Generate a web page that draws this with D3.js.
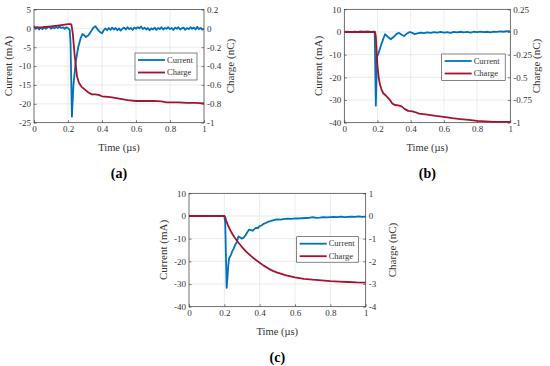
<!DOCTYPE html>
<html lang="en">
<head>
<meta charset="UTF-8">
<title>Current and charge</title>
<script src="https://cdn.jsdelivr.net/npm/d3@7/dist/d3.min.js"></script>
<style>
  body { margin: 0; background: #fff; }
  svg { display: block; }
  svg text { font-family: "Liberation Serif", "Times New Roman", serif; }
</style>
</head>
<body>
<script>
// shared time axis (µs)
const timeTicks = [0, 0.2, 0.4, 0.6, 0.8, 1];

// (a)  [time µs, current mA] and [time µs, charge nC]
const currentA = [[0,0.6],[0.01,-0.1],[0.02,0.3],[0.03,-0.3],[0.04,0.2],[0.05,-0.2],[0.06,0.3],[0.07,-0.1],[0.08,0.2],[0.09,0.5],[0.1,-0.1],[0.11,0.3],[0.12,0],[0.13,0.4],[0.14,0.1],[0.15,0.5],[0.16,0.1],[0.17,0.3],[0.18,-0.1],[0.19,0.3],[0.2,0.1],[0.21,-0.4],[0.215,-4],[0.223,-23.4],[0.232,-15],[0.245,-9],[0.26,-5],[0.275,-2.5],[0.285,-1.5],[0.295,-1.8],[0.305,-2.3],[0.32,-1.8],[0.335,-0.8],[0.35,0.2],[0.36,0.6],[0.37,0],[0.38,-0.6],[0.39,-1],[0.4,-1.3],[0.41,-0.5],[0.42,0],[0.43,-0.5],[0.44,0.1],[0.45,-0.4],[0.46,0.2],[0.47,-0.3],[0.48,0.1],[0.49,-0.5],[0.5,0],[0.51,-0.6],[0.52,-0.1],[0.53,0.2],[0.54,-0.3],[0.55,0.3],[0.56,-0.2],[0.57,0.1],[0.58,-0.4],[0.59,0.2],[0.6,-0.1],[0.61,0.3],[0.62,0],[0.63,0.5],[0.64,-0.2],[0.65,0.2],[0.66,-0.3],[0.67,0.1],[0.68,-0.5],[0.69,0],[0.7,-0.3],[0.71,0.2],[0.72,-0.4],[0.73,0.1],[0.74,-0.2],[0.75,0.3],[0.76,-0.3],[0.77,0.1],[0.78,-0.1],[0.79,0.3],[0.8,-0.2],[0.81,0.1],[0.82,-0.4],[0.83,0.2],[0.84,-0.1],[0.85,0.3],[0.86,-0.3],[0.87,0],[0.88,0.2],[0.89,-0.4],[0.9,0.1],[0.91,-0.2],[0.92,0.3],[0.93,-0.1],[0.94,0.2],[0.95,-0.3],[0.96,0.4],[0.97,-0.2],[0.98,0.1],[0.99,-0.3],[1,-0.2]];
const chargeA = [[0,0.01],[0.05,0.012],[0.1,0.02],[0.15,0.032],[0.2,0.045],[0.215,0.045],[0.22,0.04],[0.228,-0.05],[0.239,-0.28],[0.253,-0.51],[0.265,-0.58],[0.28,-0.62],[0.3,-0.65],[0.32,-0.68],[0.34,-0.7],[0.36,-0.7],[0.38,-0.705],[0.4,-0.72],[0.45,-0.73],[0.5,-0.745],[0.55,-0.76],[0.6,-0.77],[0.65,-0.77],[0.7,-0.768],[0.75,-0.775],[0.78,-0.785],[0.85,-0.785],[0.9,-0.79],[0.95,-0.79],[1,-0.795]];
const currentTicksA = [5, 0, -5, -10, -15, -20, -25];
const chargeTicksA = [0.2, 0, -0.2, -0.4, -0.6, -0.8, -1];

// (b)
const currentB = [[0,0],[0.02,0.1],[0.04,-0.1],[0.06,0.2],[0.08,0],[0.1,0.3],[0.12,0.1],[0.14,0.3],[0.16,0],[0.18,0.2],[0.183,0],[0.19,-32.5],[0.197,-11],[0.203,-10],[0.212,-8],[0.225,-5],[0.245,-1],[0.26,-2],[0.28,-3.2],[0.3,-2],[0.315,-0.8],[0.33,-0.4],[0.345,-1.2],[0.36,-1.8],[0.375,-0.8],[0.395,0],[0.41,-0.4],[0.425,-1],[0.44,-0.6],[0.46,-0.3],[0.48,-0.5],[0.5,-0.2],[0.52,-0.4],[0.54,-0.1],[0.56,-0.3],[0.58,0],[0.6,-0.3],[0.62,-0.1],[0.64,-0.4],[0.66,0],[0.68,-0.2],[0.7,0.1],[0.72,-0.2],[0.74,0],[0.76,-0.3],[0.78,0.1],[0.8,-0.1],[0.82,0.2],[0.84,-0.1],[0.86,0.1],[0.88,-0.2],[0.9,0.2],[0.92,0],[0.94,0.3],[0.96,0.1],[0.98,0.4],[1,0.3]];
const chargeB = [[0,0],[0.185,0],[0.19,-0.05],[0.196,-0.25],[0.2,-0.38],[0.207,-0.5],[0.215,-0.58],[0.225,-0.64],[0.235,-0.675],[0.25,-0.7],[0.265,-0.73],[0.275,-0.75],[0.29,-0.79],[0.305,-0.805],[0.325,-0.81],[0.345,-0.82],[0.365,-0.85],[0.385,-0.87],[0.41,-0.875],[0.43,-0.885],[0.45,-0.9],[0.5,-0.91],[0.55,-0.925],[0.6,-0.935],[0.65,-0.95],[0.7,-0.96],[0.75,-0.97],[0.8,-0.98],[0.85,-0.985],[0.9,-0.99],[0.95,-0.99],[1,-0.99]];
const currentTicksB = [10, 0, -10, -20, -30, -40];
const chargeTicksB = [0.25, 0, -0.25, -0.5, -0.75, -1];

// (c)
const currentC = [[0,0],[0.1,0],[0.2,0],[0.205,-3],[0.213,-31.7],[0.218,-27],[0.222,-22],[0.227,-18.5],[0.232,-18],[0.238,-17],[0.245,-15.5],[0.252,-14.5],[0.26,-13],[0.27,-11.5],[0.28,-9],[0.29,-9.5],[0.3,-10],[0.31,-9.5],[0.32,-8.5],[0.33,-7.2],[0.34,-6],[0.35,-6.2],[0.36,-6.5],[0.37,-5.8],[0.38,-5.2],[0.39,-5.3],[0.4,-4.5],[0.41,-4.2],[0.42,-3.6],[0.43,-3.2],[0.44,-2.9],[0.45,-2.5],[0.46,-2.3],[0.47,-2],[0.48,-1.8],[0.49,-1.6],[0.5,-1.5],[0.52,-1.6],[0.54,-1.3],[0.56,-1.2],[0.58,-1.3],[0.6,-1.1],[0.62,-1.1],[0.64,-1],[0.66,-0.9],[0.68,-0.8],[0.7,-0.5],[0.72,-0.8],[0.74,-0.7],[0.76,-0.5],[0.78,-0.6],[0.8,-0.5],[0.82,-0.4],[0.84,-0.5],[0.86,-0.3],[0.88,-0.5],[0.9,-0.4],[0.92,-0.3],[0.94,-0.4],[0.96,-0.2],[0.98,-0.4],[1,-0.3]];
const chargeC = [[0,0],[0.2,0],[0.205,-0.05],[0.21,-0.2],[0.22,-0.4],[0.23,-0.57],[0.24,-0.72],[0.25,-0.85],[0.26,-0.97],[0.28,-1.18],[0.3,-1.37],[0.325,-1.58],[0.35,-1.76],[0.375,-1.92],[0.4,-2.06],[0.425,-2.2],[0.45,-2.32],[0.475,-2.42],[0.5,-2.5],[0.55,-2.62],[0.6,-2.71],[0.65,-2.77],[0.7,-2.81],[0.75,-2.84],[0.8,-2.87],[0.85,-2.89],[0.9,-2.91],[0.95,-2.93],[1,-2.94]];
const currentTicksC = [10, 0, -10, -20, -30, -40];
const chargeTicksC = [1, 0, -1, -2, -3, -4];

const seriesNames = ['Current', 'Charge'];
const colors = { Current: '#0072BD', Charge: '#A2142F' };
const axisColor = '#333';

const svg = d3.select('body').append('svg')
    .attr('width', 550)
    .attr('height', 366);

// panel frames (pixels) and legend boxes
const panels = [
  { tag: '(a)', current: currentA, charge: chargeA, cTicks: currentTicksA, qTicks: chargeTicksA,
    x0: 34, x1: 204, y0: 9.5, y1: 122.7, legend: [135, 53, 62, 27] },
  { tag: '(b)', current: currentB, charge: chargeB, cTicks: currentTicksB, qTicks: chargeTicksB,
    x0: 344.3, x1: 510.3, y0: 9.3, y1: 122.7, legend: [441.7, 54, 63.5, 26.5] },
  { tag: '(c)', current: currentC, charge: chargeC, cTicks: currentTicksC, qTicks: chargeTicksC,
    x0: 189, x1: 365.7, y0: 193.3, y1: 306.7, legend: [296.7, 236.7, 61.6, 25.5] }
];

panels.forEach(p => {
  const x = d3.scaleLinear().domain([0, 1]).range([p.x0, p.x1]);
  const yc = d3.scaleLinear().domain(d3.extent(p.cTicks)).range([p.y1, p.y0]);
  const yq = d3.scaleLinear().domain(d3.extent(p.qTicks)).range([p.y1, p.y0]);
  const g = svg.append('g');

  // grid
  g.append('g').attr('stroke', '#e3e3e3').attr('stroke-width', 0.7)
    .selectAll('line').data(timeTicks.slice(1, -1)).join('line')
    .attr('x1', d => x(d)).attr('x2', d => x(d)).attr('y1', p.y0).attr('y2', p.y1);
  g.append('g').attr('stroke', '#e3e3e3').attr('stroke-width', 0.7)
    .selectAll('line').data(p.cTicks.slice(1, -1)).join('line')
    .attr('y1', d => yc(d)).attr('y2', d => yc(d)).attr('x1', p.x0).attr('x2', p.x1);

  // axes, ticks pointing inward like matlab
  const fmt = d => String(d);
  const axes = [
    [d3.axisBottom(x).tickValues(timeTicks), `translate(0,${p.y1})`],
    [d3.axisLeft(yc).tickValues(p.cTicks), `translate(${p.x0},0)`],
    [d3.axisRight(yq).tickValues(p.qTicks), `translate(${p.x1},0)`]
  ];
  axes.forEach(([ax, tr]) => {
    const a = g.append('g').attr('transform', tr)
      .call(ax.tickFormat(fmt).tickSizeInner(-2.5).tickSizeOuter(0).tickPadding(3));
    a.attr('font-family', null);
    a.select('.domain').remove();
    a.selectAll('line').attr('stroke', axisColor).attr('stroke-width', 0.6);
    a.selectAll('text').attr('fill', axisColor).style('font-size', '9px');
  });

  // box
  g.append('rect')
    .attr('x', p.x0).attr('y', p.y0)
    .attr('width', p.x1 - p.x0).attr('height', p.y1 - p.y0)
    .attr('fill', 'none').attr('stroke', axisColor).attr('stroke-width', 0.7);

  // curves
  const lineC = d3.line().x(d => x(d[0])).y(d => yc(d[1]));
  const lineQ = d3.line().x(d => x(d[0])).y(d => yq(d[1]));
  g.append('path').datum(p.current).attr('d', lineC)
    .attr('fill', 'none').attr('stroke', colors.Current).attr('stroke-width', 1.8).attr('stroke-linejoin', 'round');
  g.append('path').datum(p.charge).attr('d', lineQ)
    .attr('fill', 'none').attr('stroke', colors.Charge).attr('stroke-width', 1.8).attr('stroke-linejoin', 'round');

  // axis titles
  const midY = (p.y0 + p.y1) / 2;
  g.append('text').attr('x', (p.x0 + p.x1) / 2).attr('y', p.y1 + 28)
    .attr('text-anchor', 'middle').style('font-size', '10.5px').attr('fill', axisColor).text('Time (µs)');
  g.append('text').attr('transform', `translate(${p.x0 - 22},${midY}) rotate(-90)`)
    .attr('text-anchor', 'middle').style('font-size', '11px').attr('fill', axisColor).text('Current (mA)');
  g.append('text').attr('transform', `translate(${p.x1 + 30},${midY}) rotate(-90)`)
    .attr('text-anchor', 'middle').style('font-size', '11px').attr('fill', axisColor).text('Charge (nC)');

  // legend
  const [lx, ly, lw, lh] = p.legend;
  const leg = g.append('g').attr('transform', `translate(${lx},${ly})`);
  leg.append('rect').attr('width', lw).attr('height', lh)
    .attr('fill', '#fff').attr('stroke', axisColor).attr('stroke-width', 0.6);
  seriesNames.forEach((name, i) => {
    const yy = 7 + i * 12.5;
    leg.append('line').attr('x1', 3).attr('x2', 30).attr('y1', yy).attr('y2', yy)
      .attr('stroke', colors[name]).attr('stroke-width', 1.8);
    leg.append('text').attr('x', 32).attr('y', yy).attr('dy', '0.32em')
      .style('font-size', '8.5px').attr('fill', axisColor).text(name);
  });

  // caption
  g.append('text').attr('x', (p.x0 + p.x1) / 2).attr('y', p.y1 + 55)
    .attr('text-anchor', 'middle').style('font-size', '14px').attr('font-weight', 'bold')
    .attr('fill', '#000').text(p.tag);
});
</script>
</body>
</html>
